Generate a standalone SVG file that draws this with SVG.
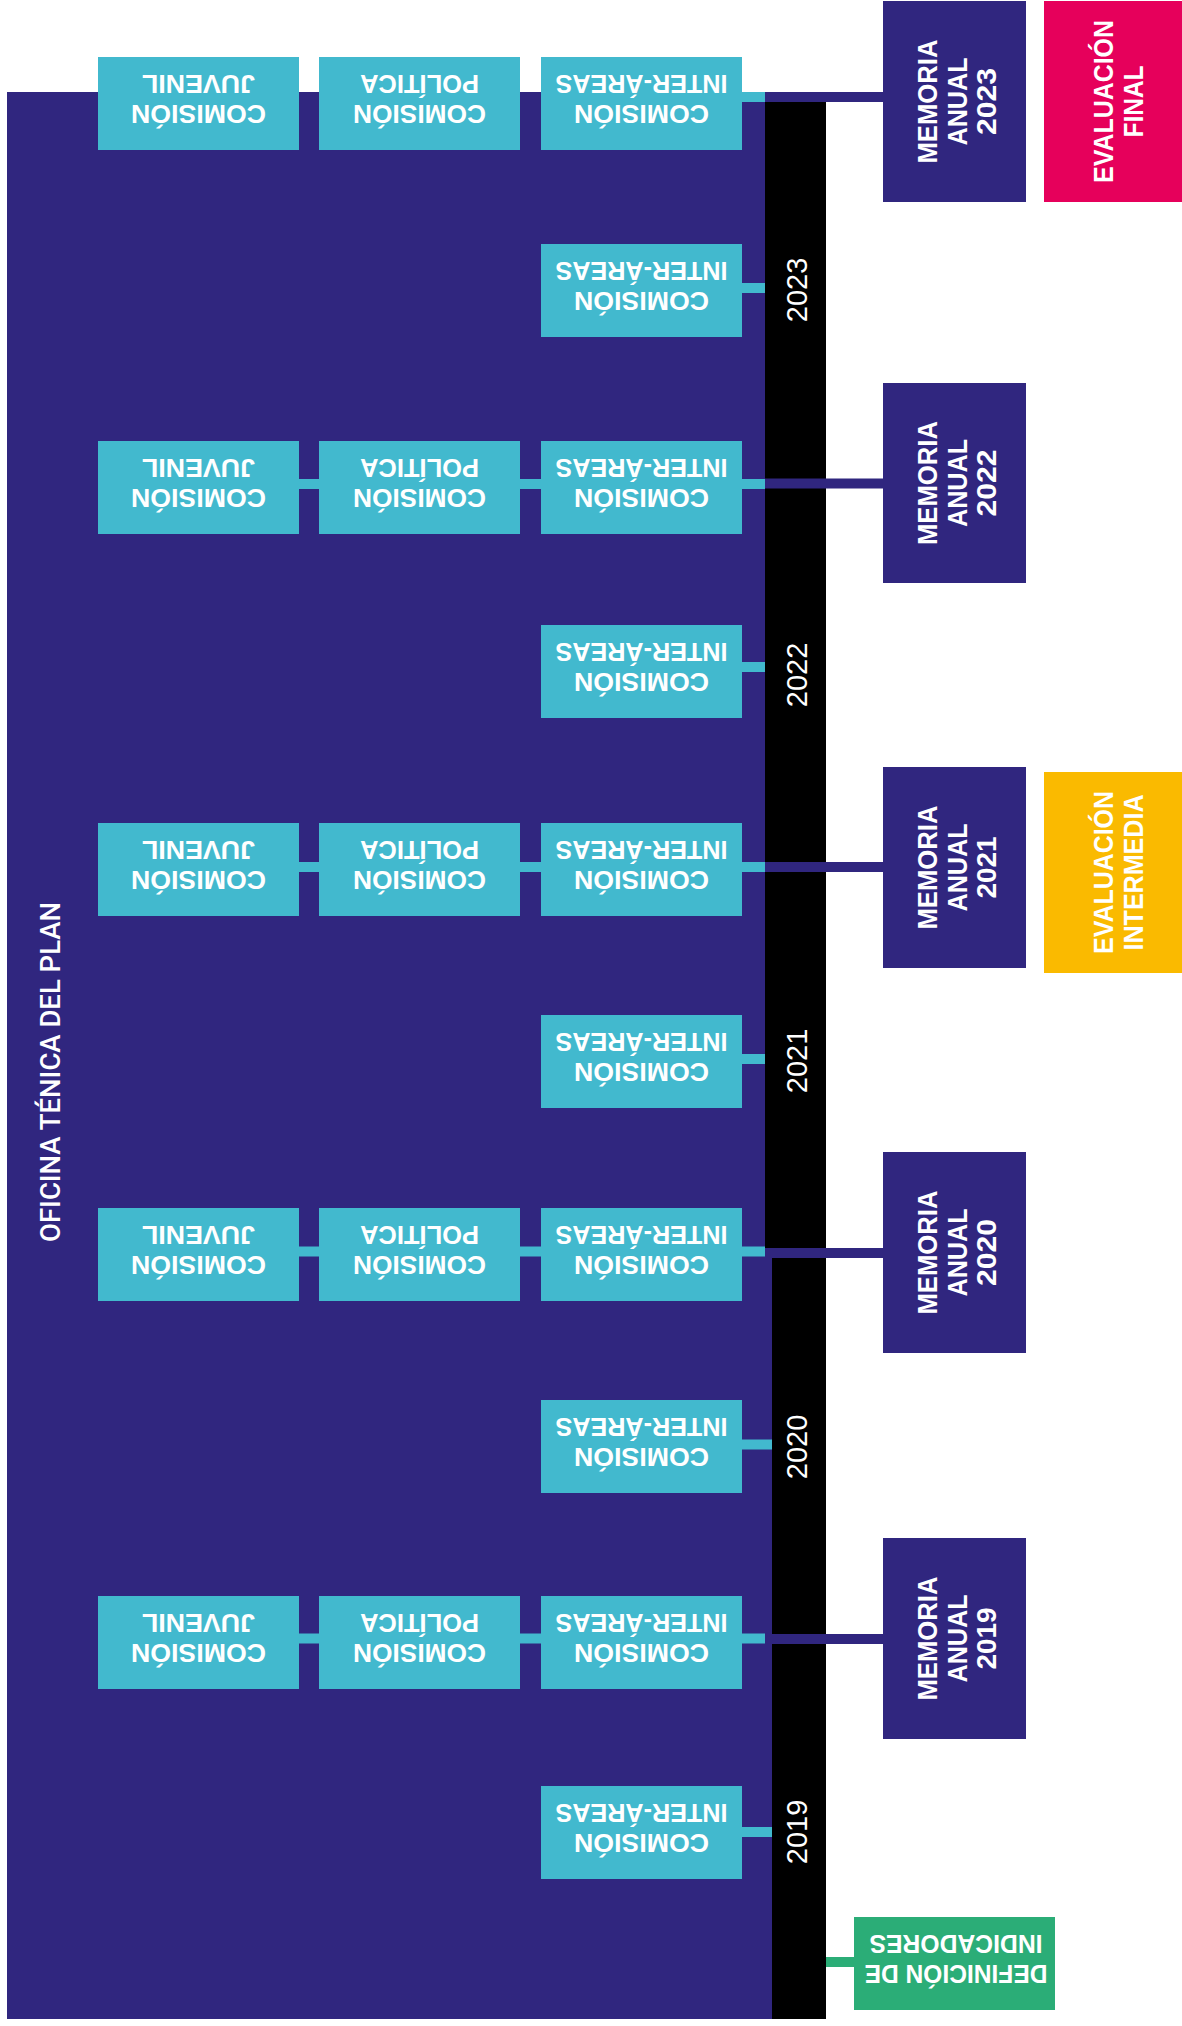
<svg xmlns="http://www.w3.org/2000/svg" width="1182" height="2026" viewBox="0 0 1182 2026">
<style>
.pu{fill:#30267F}
.cy{fill:#42B9CE}
.bk{fill:#000}
.t{font-family:"Liberation Sans",Arial,sans-serif;fill:#fff}
.b{font-weight:bold;font-size:25.5px}
.m{font-weight:bold;font-size:28px}
.yr{font-size:29px}
.of{font-family:Roboto,"Liberation Sans",Arial,sans-serif;font-weight:500;font-size:28px}
.cn{stroke:#42B9CE;stroke-width:10}
.cp{stroke:#30267F;stroke-width:10}
.cg{stroke:#2BAD77;stroke-width:10}
</style>
<rect width="1182" height="2026" fill="#fff"/>
<g id="oficina">
<rect class="pu" x="7" y="92" width="765" height="1927"/>
<text class="t of" transform="translate(60,1072) rotate(-90)" text-anchor="middle" textLength="340" lengthAdjust="spacingAndGlyphs">OFICINA TÉNICA DEL PLAN</text>
</g>
<g id="timeline">
<rect class="bk" x="765" y="102" width="61" height="1146"/>
<rect class="bk" x="772" y="1258" width="54" height="761"/>
<text class="t yr" transform="translate(807,290) rotate(-90)" text-anchor="middle">2023</text>
<text class="t yr" transform="translate(807,675) rotate(-90)" text-anchor="middle">2022</text>
<text class="t yr" transform="translate(807,1061) rotate(-90)" text-anchor="middle">2021</text>
<text class="t yr" transform="translate(807,1447) rotate(-90)" text-anchor="middle">2020</text>
<text class="t yr" transform="translate(807,1832) rotate(-90)" text-anchor="middle">2019</text>
</g>
<g id="connectors">
<line class="cn" x1="742" y1="97" x2="765" y2="97"/>
<line class="cp" x1="765" y1="97" x2="883" y2="97"/>
<line class="cn" x1="742" y1="288" x2="765" y2="288"/>
<line class="cn" x1="299" y1="484" x2="319" y2="484"/>
<line class="cn" x1="520" y1="484" x2="541" y2="484"/>
<line class="cn" x1="742" y1="484" x2="765" y2="484"/>
<line class="cp" x1="765" y1="483.5" x2="883" y2="483.5"/>
<line class="cn" x1="742" y1="667" x2="765" y2="667"/>
<line class="cn" x1="299" y1="867" x2="319" y2="867"/>
<line class="cn" x1="520" y1="867" x2="541" y2="867"/>
<line class="cn" x1="742" y1="867" x2="765" y2="867"/>
<line class="cp" x1="765" y1="867" x2="883" y2="867"/>
<line class="cn" x1="742" y1="1059" x2="765" y2="1059"/>
<line class="cn" x1="299" y1="1251.5" x2="319" y2="1251.5"/>
<line class="cn" x1="520" y1="1251.5" x2="541" y2="1251.5"/>
<line class="cn" x1="742" y1="1251.5" x2="765" y2="1251.5"/>
<line class="cp" x1="765" y1="1253" x2="883" y2="1253"/>
<line class="cn" x1="742" y1="1444.5" x2="772" y2="1444.5"/>
<line class="cn" x1="299" y1="1638.5" x2="319" y2="1638.5"/>
<line class="cn" x1="520" y1="1638.5" x2="541" y2="1638.5"/>
<line class="cn" x1="742" y1="1638.5" x2="765" y2="1638.5"/>
<line class="cp" x1="765" y1="1639" x2="883" y2="1639"/>
<line class="cn" x1="742" y1="1832" x2="772" y2="1832"/>
<line class="cg" x1="826" y1="1962" x2="854" y2="1962"/>
</g>
<!-- Row A (2023) -->
<g id="a-juvenil"><rect class="cy" x="98" y="57" width="201" height="93"/>
<text class="t b" transform="translate(198.5,103.5) rotate(180)" x="0" y="-1.5" text-anchor="middle" textLength="135" lengthAdjust="spacingAndGlyphs">COMISIÓN</text>
<text class="t b" transform="translate(198.5,103.5) rotate(180)" x="0" y="28.5" text-anchor="middle" textLength="113" lengthAdjust="spacingAndGlyphs">JUVENIL</text></g>
<g id="a-politica"><rect class="cy" x="319" y="57" width="201" height="93"/>
<text class="t b" transform="translate(419.5,103.5) rotate(180)" x="0" y="-1.5" text-anchor="middle" textLength="133" lengthAdjust="spacingAndGlyphs">COMISIÓN</text>
<text class="t b" transform="translate(419.5,103.5) rotate(180)" x="0" y="28.5" text-anchor="middle" textLength="119" lengthAdjust="spacingAndGlyphs">POLÍTICA</text></g>
<g id="a-inter"><rect class="cy" x="541" y="57" width="201" height="93"/>
<text class="t b" transform="translate(641.5,103.5) rotate(180)" x="0" y="-1.5" text-anchor="middle" textLength="135" lengthAdjust="spacingAndGlyphs">COMISIÓN</text>
<text class="t b" transform="translate(641.5,103.5) rotate(180)" x="0" y="28.5" text-anchor="middle" textLength="172" lengthAdjust="spacingAndGlyphs">INTER-ÁREAS</text></g>
<g id="s2023"><rect class="cy" x="541" y="244" width="201" height="93"/>
<text class="t b" transform="translate(641.5,290.5) rotate(180)" x="0" y="-1.5" text-anchor="middle" textLength="135" lengthAdjust="spacingAndGlyphs">COMISIÓN</text>
<text class="t b" transform="translate(641.5,290.5) rotate(180)" x="0" y="28.5" text-anchor="middle" textLength="172" lengthAdjust="spacingAndGlyphs">INTER-ÁREAS</text></g>
<!-- Row B (2022) -->
<g id="b-juvenil"><rect class="cy" x="98" y="441" width="201" height="93"/>
<text class="t b" transform="translate(198.5,487.5) rotate(180)" x="0" y="-1.5" text-anchor="middle" textLength="135" lengthAdjust="spacingAndGlyphs">COMISIÓN</text>
<text class="t b" transform="translate(198.5,487.5) rotate(180)" x="0" y="28.5" text-anchor="middle" textLength="113" lengthAdjust="spacingAndGlyphs">JUVENIL</text></g>
<g id="b-politica"><rect class="cy" x="319" y="441" width="201" height="93"/>
<text class="t b" transform="translate(419.5,487.5) rotate(180)" x="0" y="-1.5" text-anchor="middle" textLength="133" lengthAdjust="spacingAndGlyphs">COMISIÓN</text>
<text class="t b" transform="translate(419.5,487.5) rotate(180)" x="0" y="28.5" text-anchor="middle" textLength="119" lengthAdjust="spacingAndGlyphs">POLÍTICA</text></g>
<g id="b-inter"><rect class="cy" x="541" y="441" width="201" height="93"/>
<text class="t b" transform="translate(641.5,487.5) rotate(180)" x="0" y="-1.5" text-anchor="middle" textLength="135" lengthAdjust="spacingAndGlyphs">COMISIÓN</text>
<text class="t b" transform="translate(641.5,487.5) rotate(180)" x="0" y="28.5" text-anchor="middle" textLength="172" lengthAdjust="spacingAndGlyphs">INTER-ÁREAS</text></g>
<g id="s2022"><rect class="cy" x="541" y="625" width="201" height="93"/>
<text class="t b" transform="translate(641.5,671.5) rotate(180)" x="0" y="-1.5" text-anchor="middle" textLength="135" lengthAdjust="spacingAndGlyphs">COMISIÓN</text>
<text class="t b" transform="translate(641.5,671.5) rotate(180)" x="0" y="28.5" text-anchor="middle" textLength="172" lengthAdjust="spacingAndGlyphs">INTER-ÁREAS</text></g>
<!-- Row C (2021) -->
<g id="c-juvenil"><rect class="cy" x="98" y="823" width="201" height="93"/>
<text class="t b" transform="translate(198.5,869.5) rotate(180)" x="0" y="-1.5" text-anchor="middle" textLength="135" lengthAdjust="spacingAndGlyphs">COMISIÓN</text>
<text class="t b" transform="translate(198.5,869.5) rotate(180)" x="0" y="28.5" text-anchor="middle" textLength="113" lengthAdjust="spacingAndGlyphs">JUVENIL</text></g>
<g id="c-politica"><rect class="cy" x="319" y="823" width="201" height="93"/>
<text class="t b" transform="translate(419.5,869.5) rotate(180)" x="0" y="-1.5" text-anchor="middle" textLength="133" lengthAdjust="spacingAndGlyphs">COMISIÓN</text>
<text class="t b" transform="translate(419.5,869.5) rotate(180)" x="0" y="28.5" text-anchor="middle" textLength="119" lengthAdjust="spacingAndGlyphs">POLÍTICA</text></g>
<g id="c-inter"><rect class="cy" x="541" y="823" width="201" height="93"/>
<text class="t b" transform="translate(641.5,869.5) rotate(180)" x="0" y="-1.5" text-anchor="middle" textLength="135" lengthAdjust="spacingAndGlyphs">COMISIÓN</text>
<text class="t b" transform="translate(641.5,869.5) rotate(180)" x="0" y="28.5" text-anchor="middle" textLength="172" lengthAdjust="spacingAndGlyphs">INTER-ÁREAS</text></g>
<g id="s2021"><rect class="cy" x="541" y="1015" width="201" height="93"/>
<text class="t b" transform="translate(641.5,1061.5) rotate(180)" x="0" y="-1.5" text-anchor="middle" textLength="135" lengthAdjust="spacingAndGlyphs">COMISIÓN</text>
<text class="t b" transform="translate(641.5,1061.5) rotate(180)" x="0" y="28.5" text-anchor="middle" textLength="172" lengthAdjust="spacingAndGlyphs">INTER-ÁREAS</text></g>
<!-- Row D (2020) -->
<g id="d-juvenil"><rect class="cy" x="98" y="1208" width="201" height="93"/>
<text class="t b" transform="translate(198.5,1254.5) rotate(180)" x="0" y="-1.5" text-anchor="middle" textLength="135" lengthAdjust="spacingAndGlyphs">COMISIÓN</text>
<text class="t b" transform="translate(198.5,1254.5) rotate(180)" x="0" y="28.5" text-anchor="middle" textLength="113" lengthAdjust="spacingAndGlyphs">JUVENIL</text></g>
<g id="d-politica"><rect class="cy" x="319" y="1208" width="201" height="93"/>
<text class="t b" transform="translate(419.5,1254.5) rotate(180)" x="0" y="-1.5" text-anchor="middle" textLength="133" lengthAdjust="spacingAndGlyphs">COMISIÓN</text>
<text class="t b" transform="translate(419.5,1254.5) rotate(180)" x="0" y="28.5" text-anchor="middle" textLength="119" lengthAdjust="spacingAndGlyphs">POLÍTICA</text></g>
<g id="d-inter"><rect class="cy" x="541" y="1208" width="201" height="93"/>
<text class="t b" transform="translate(641.5,1254.5) rotate(180)" x="0" y="-1.5" text-anchor="middle" textLength="135" lengthAdjust="spacingAndGlyphs">COMISIÓN</text>
<text class="t b" transform="translate(641.5,1254.5) rotate(180)" x="0" y="28.5" text-anchor="middle" textLength="172" lengthAdjust="spacingAndGlyphs">INTER-ÁREAS</text></g>
<g id="s2020"><rect class="cy" x="541" y="1400" width="201" height="93"/>
<text class="t b" transform="translate(641.5,1446.5) rotate(180)" x="0" y="-1.5" text-anchor="middle" textLength="135" lengthAdjust="spacingAndGlyphs">COMISIÓN</text>
<text class="t b" transform="translate(641.5,1446.5) rotate(180)" x="0" y="28.5" text-anchor="middle" textLength="172" lengthAdjust="spacingAndGlyphs">INTER-ÁREAS</text></g>
<!-- Row E (2019) -->
<g id="e-juvenil"><rect class="cy" x="98" y="1596" width="201" height="93"/>
<text class="t b" transform="translate(198.5,1642.5) rotate(180)" x="0" y="-1.5" text-anchor="middle" textLength="135" lengthAdjust="spacingAndGlyphs">COMISIÓN</text>
<text class="t b" transform="translate(198.5,1642.5) rotate(180)" x="0" y="28.5" text-anchor="middle" textLength="113" lengthAdjust="spacingAndGlyphs">JUVENIL</text></g>
<g id="e-politica"><rect class="cy" x="319" y="1596" width="201" height="93"/>
<text class="t b" transform="translate(419.5,1642.5) rotate(180)" x="0" y="-1.5" text-anchor="middle" textLength="133" lengthAdjust="spacingAndGlyphs">COMISIÓN</text>
<text class="t b" transform="translate(419.5,1642.5) rotate(180)" x="0" y="28.5" text-anchor="middle" textLength="119" lengthAdjust="spacingAndGlyphs">POLÍTICA</text></g>
<g id="e-inter"><rect class="cy" x="541" y="1596" width="201" height="93"/>
<text class="t b" transform="translate(641.5,1642.5) rotate(180)" x="0" y="-1.5" text-anchor="middle" textLength="135" lengthAdjust="spacingAndGlyphs">COMISIÓN</text>
<text class="t b" transform="translate(641.5,1642.5) rotate(180)" x="0" y="28.5" text-anchor="middle" textLength="172" lengthAdjust="spacingAndGlyphs">INTER-ÁREAS</text></g>
<g id="s2019"><rect class="cy" x="541" y="1786" width="201" height="93"/>
<text class="t b" transform="translate(641.5,1832.5) rotate(180)" x="0" y="-1.5" text-anchor="middle" textLength="135" lengthAdjust="spacingAndGlyphs">COMISIÓN</text>
<text class="t b" transform="translate(641.5,1832.5) rotate(180)" x="0" y="28.5" text-anchor="middle" textLength="172" lengthAdjust="spacingAndGlyphs">INTER-ÁREAS</text></g>
<!-- Memorias -->
<g id="memoria2023"><rect class="pu" x="883" y="1" width="143" height="201"/>
<text class="t m" transform="translate(954.5,101.5) rotate(-90)" x="0" y="-17.5" text-anchor="middle" textLength="124" lengthAdjust="spacingAndGlyphs">MEMORIA</text>
<text class="t m" transform="translate(954.5,101.5) rotate(-90)" x="0" y="12.5" text-anchor="middle" textLength="88" lengthAdjust="spacingAndGlyphs">ANUAL</text>
<text class="t m" transform="translate(954.5,101.5) rotate(-90)" x="0" y="41.5" text-anchor="middle" textLength="67" lengthAdjust="spacingAndGlyphs">2023</text></g>
<g id="memoria2022"><rect class="pu" x="883" y="383" width="143" height="200"/>
<text class="t m" transform="translate(954.5,483) rotate(-90)" x="0" y="-17.5" text-anchor="middle" textLength="124" lengthAdjust="spacingAndGlyphs">MEMORIA</text>
<text class="t m" transform="translate(954.5,483) rotate(-90)" x="0" y="12.5" text-anchor="middle" textLength="88" lengthAdjust="spacingAndGlyphs">ANUAL</text>
<text class="t m" transform="translate(954.5,483) rotate(-90)" x="0" y="41.5" text-anchor="middle" textLength="67" lengthAdjust="spacingAndGlyphs">2022</text></g>
<g id="memoria2021"><rect class="pu" x="883" y="767" width="143" height="201"/>
<text class="t m" transform="translate(954.5,867.5) rotate(-90)" x="0" y="-17.5" text-anchor="middle" textLength="124" lengthAdjust="spacingAndGlyphs">MEMORIA</text>
<text class="t m" transform="translate(954.5,867.5) rotate(-90)" x="0" y="12.5" text-anchor="middle" textLength="88" lengthAdjust="spacingAndGlyphs">ANUAL</text>
<text class="t m" transform="translate(954.5,867.5) rotate(-90)" x="0" y="41.5" text-anchor="middle" textLength="62" lengthAdjust="spacingAndGlyphs">2021</text></g>
<g id="memoria2020"><rect class="pu" x="883" y="1152" width="143" height="201"/>
<text class="t m" transform="translate(954.5,1252.5) rotate(-90)" x="0" y="-17.5" text-anchor="middle" textLength="124" lengthAdjust="spacingAndGlyphs">MEMORIA</text>
<text class="t m" transform="translate(954.5,1252.5) rotate(-90)" x="0" y="12.5" text-anchor="middle" textLength="88" lengthAdjust="spacingAndGlyphs">ANUAL</text>
<text class="t m" transform="translate(954.5,1252.5) rotate(-90)" x="0" y="41.5" text-anchor="middle" textLength="67" lengthAdjust="spacingAndGlyphs">2020</text></g>
<g id="memoria2019"><rect class="pu" x="883" y="1538" width="143" height="201"/>
<text class="t m" transform="translate(954.5,1638.5) rotate(-90)" x="0" y="-17.5" text-anchor="middle" textLength="124" lengthAdjust="spacingAndGlyphs">MEMORIA</text>
<text class="t m" transform="translate(954.5,1638.5) rotate(-90)" x="0" y="12.5" text-anchor="middle" textLength="88" lengthAdjust="spacingAndGlyphs">ANUAL</text>
<text class="t m" transform="translate(954.5,1638.5) rotate(-90)" x="0" y="41.5" text-anchor="middle" textLength="62" lengthAdjust="spacingAndGlyphs">2019</text></g>
<!-- Evaluaciones -->
<g id="eval-final"><rect x="1044" y="1" width="138" height="201" fill="#E6005B"/>
<text class="t m" transform="translate(1113,101.5) rotate(-90)" x="0" y="0" text-anchor="middle" textLength="163" lengthAdjust="spacingAndGlyphs">EVALUACIÓN</text>
<text class="t m" transform="translate(1113,101.5) rotate(-90)" x="0" y="30" text-anchor="middle" textLength="72" lengthAdjust="spacingAndGlyphs">FINAL</text></g>
<g id="eval-intermedia"><rect x="1044" y="772" width="138" height="201" fill="#FABA00"/>
<text class="t m" transform="translate(1113,872.5) rotate(-90)" x="0" y="0" text-anchor="middle" textLength="163" lengthAdjust="spacingAndGlyphs">EVALUACIÓN</text>
<text class="t m" transform="translate(1113,872.5) rotate(-90)" x="0" y="30" text-anchor="middle" textLength="156" lengthAdjust="spacingAndGlyphs">INTERMEDIA</text></g>
<!-- Definición -->
<g id="definicion"><rect x="854" y="1917" width="201" height="93" fill="#2BAD77"/>
<text class="t b" transform="translate(956,1963.5) rotate(180)" x="0" y="-1.5" text-anchor="middle" textLength="183" lengthAdjust="spacingAndGlyphs">DEFINICIÓN DE</text>
<text class="t b" transform="translate(956,1963.5) rotate(180)" x="0" y="28.5" text-anchor="middle" textLength="173" lengthAdjust="spacingAndGlyphs">INDICADORES</text></g>
</svg>
